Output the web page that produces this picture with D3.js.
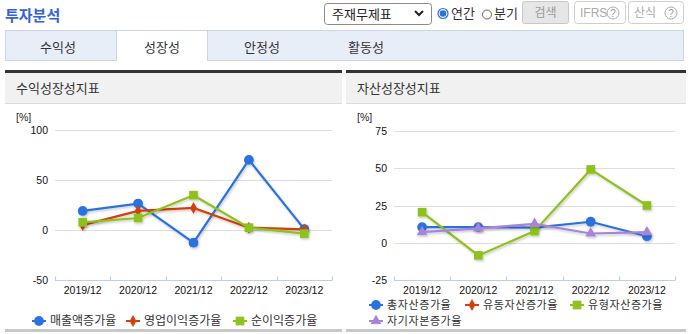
<!DOCTYPE html>
<html><head><meta charset="utf-8">
<script src="https://cdn.jsdelivr.net/npm/d3@7"></script>
<style>
html,body{margin:0;padding:0;background:#fff;}
svg{display:block;font-family:"Noto Sans CJK KR","Noto Sans",sans-serif;}
</style></head>
<body><svg id="c" width="690" height="334"></svg>
<script>
const categories = ["2019/12","2020/12","2021/12","2022/12","2023/12"];
// 수익성장성지표
const leftTicks = [-50, 0, 50, 100];
const salesGrowth = [18.8, 26.2, -13.1, 70.0, 0.6];
const opIncomeGrowth = [4.6, 18.8, 21.8, 2.0, 0.3];
const netIncomeGrowth = [7.4, 11.7, 34.6, 2.0, -4.0];
// 자산성장성지표
const rightTicks = [-25, 0, 25, 50, 75];
const totalAssetGrowth = [10.5, 10.5, 10.2, 14.1, 4.4];
const currentAssetGrowth = [null, null, null, null, null];
const tangibleAssetGrowth = [20.5, -8.5, 7.8, 49.2, 25.0];
const equityGrowth = [7.1, 9.6, 12.7, 6.2, 7.1];

const tabs = ["수익성","성장성","안정성","활동성"];

const C = {blue:"#2a72de", red:"#d2400e", green:"#8dc21f", purple:"#a884d8"};
const NUMFONT = "'Liberation Sans Narrow','Liberation Sans',sans-serif";

const svg = d3.select("#c");
const defs = svg.append("defs");
const f = defs.append("filter").attr("id","sh").attr("x","-10%").attr("y","-10%").attr("width","130%").attr("height","130%");
f.append("feDropShadow").attr("dx",1).attr("dy",1.5).attr("stdDeviation",1).attr("flood-color","#000").attr("flood-opacity",0.22);

// ---- header ----
svg.append("text").attr("x",5).attr("y",21).attr("font-size",15).attr("font-weight","bold")
  .attr("fill","#3563d6").text("투자분석");

// select
svg.append("rect").attr("x",324.5).attr("y",3.5).attr("width",107).attr("height",21).attr("rx",3)
  .attr("fill","#fff").attr("stroke","#8a8a8a");
svg.append("text").attr("x",332).attr("y",19).attr("font-size",13).attr("fill","#222").text("주재무제표");
svg.append("path").attr("d","M415,11 L419,15 L423,11").attr("fill","none").attr("stroke","#222").attr("stroke-width",2);

// radios
svg.append("circle").attr("cx",443).attr("cy",13.5).attr("r",5).attr("fill","#fff").attr("stroke","#2a72de").attr("stroke-width",1.2);
svg.append("circle").attr("cx",443).attr("cy",13.5).attr("r",3.3).attr("fill","#2a72de");
svg.append("text").attr("x",451).attr("y",18).attr("font-size",13).attr("fill","#333").text("연간");
svg.append("circle").attr("cx",487).attr("cy",14.5).attr("r",4.5).attr("fill","#fff").attr("stroke","#666");
svg.append("text").attr("x",494).attr("y",18).attr("font-size",13).attr("fill","#333").text("분기");

// buttons
svg.append("rect").attr("x",522.5).attr("y",1.5).attr("width",46).attr("height",22).attr("rx",2)
  .attr("fill","#e6e6e6").attr("stroke","#c8c8c8");
svg.append("text").attr("x",545.5).attr("y",17).attr("text-anchor","middle").attr("font-size",12).attr("fill","#999").text("검색");
function helpBtn(x, w, label){
  svg.append("rect").attr("x",x+0.5).attr("y",1.5).attr("width",w).attr("height",22).attr("rx",3)
    .attr("fill","#fff").attr("stroke","#cfcfcf");
  svg.append("text").attr("x",x+6).attr("y",17).attr("font-size",12).attr("fill","#aaa")
    .attr("font-family", label==="IFRS" ? "Liberation Sans, sans-serif" : null).text(label);
  svg.append("circle").attr("cx",x+w-12).attr("cy",13).attr("r",6).attr("fill","none").attr("stroke","#aaa");
  svg.append("text").attr("x",x+w-12).attr("y",17).attr("text-anchor","middle").attr("font-size",10)
    .attr("font-family","Liberation Sans, sans-serif").attr("fill","#999").text("?");
}
helpBtn(574, 51, "IFRS");
helpBtn(628, 55, "산식");

// tabs
svg.append("rect").attr("x",5.5).attr("y",30.5).attr("width",678).attr("height",30).attr("fill","#e8eef8").attr("stroke","#cbd5e5");
svg.append("rect").attr("x",116.5).attr("y",31).attr("width",91).attr("height",31).attr("fill","#fff");
svg.append("path").attr("d","M116.5,61 V30.5 H207.5 V61").attr("fill","none").attr("stroke","#cbd5e5");
const tabX = [58, 162, 262, 366];
svg.selectAll("text.tab").data(tabs).enter().append("text").attr("class","tab")
  .attr("x",(d,i)=>tabX[i]).attr("y",52).attr("text-anchor","middle").attr("font-size",13).attr("fill","#333").text(d=>d);

// ---- panels ----
function panel(opts){
  const g = svg.append("g");
  g.append("rect").attr("x",opts.x0).attr("y",70).attr("width",opts.x1-opts.x0).attr("height",3).attr("fill","#333");
  g.append("rect").attr("x",opts.x0).attr("y",73).attr("width",opts.x1-opts.x0).attr("height",30).attr("fill","#f1f1f1");
  g.append("rect").attr("x",opts.x0).attr("y",103).attr("width",opts.x1-opts.x0).attr("height",1).attr("fill","#dcdcdc");
  g.append("text").attr("x",opts.x0+11).attr("y",93).attr("font-size",13).attr("fill","#333").text(opts.title);
  g.append("rect").attr("x",opts.x0).attr("y",329).attr("width",opts.x1-opts.x0).attr("height",3).attr("fill","#c8c8c8");

  const x = d3.scaleBand().domain(categories).range([opts.px0, opts.px1]);
  const y = d3.scaleLinear().domain(opts.domain).range([opts.py1, opts.py0]);

  g.append("text").attr("x",opts.x0+11).attr("y",121).attr("font-size",10.5)
    .attr("font-family",NUMFONT).attr("fill","#222").text("[%]");

  // grid
  g.append("g").selectAll("line").data(opts.ticks.filter(t=>t!==opts.domain[0])).enter().append("line")
    .attr("x1",opts.px0).attr("x2",opts.px1).attr("y1",d=>Math.round(y(d))+0.5).attr("y2",d=>Math.round(y(d))+0.5)
    .attr("stroke","#dedede");
  // y labels
  g.append("g").selectAll("text").data(opts.ticks).enter().append("text")
    .attr("x",opts.px0-7).attr("y",d=>y(d)+4).attr("text-anchor","end").attr("font-size",10.5)
    .attr("font-family",NUMFONT).attr("fill","#111").text(d=>d);

  // x axis
  const ax = g.append("g").attr("transform",`translate(0,${Math.round(opts.py1)+0.5})`)
    .call(d3.axisBottom(x).tickSize(0).tickPadding(6));
  ax.select(".domain").remove();
  ax.append("line").attr("x1",opts.px0).attr("x2",opts.px1).attr("stroke","#c3cddd").attr("stroke-width",1.2);
  const bounds = [opts.px0].concat(categories.map(c=>x(c)+x.bandwidth()));
  ax.selectAll("line.tk").data(bounds).enter().append("line").attr("class","tk")
    .attr("x1",d=>Math.round(d)+0.5).attr("x2",d=>Math.round(d)+0.5).attr("y1",-4).attr("y2",0)
    .attr("stroke","#c3cddd").attr("stroke-width",1.2);
  ax.selectAll(".tick text").attr("font-size",10.5)
    .attr("font-family",NUMFONT).attr("fill","#111");

  const cx = c => x(c)+x.bandwidth()/2;
  const line = d3.line().defined(d=>d.v!==null).x(d=>cx(d.c)).y(d=>y(d.v));
  opts.series.forEach(s=>{
    const pts = categories.map((c,i)=>({c, v:s.values[i]}));
    const sg = g.append("g").attr("filter","url(#sh)");
    sg.append("path").datum(pts).attr("d",line).attr("fill","none").attr("stroke",s.color).attr("stroke-width",2.2);
    const sym = d3.symbol().type(s.shape).size(s.size);
    sg.selectAll("path.m").data(pts.filter(p=>p.v!==null)).enter().append("path").attr("class","m")
      .attr("d",sym).attr("transform",p=>`translate(${cx(p.c)},${y(p.v)})`).attr("fill",s.color);
  });

  // legend
  const lg = g.append("g");
  opts.series.forEach((s,i)=>{
    const L = opts.legend[i];
    lg.append("line").attr("x1",L[0]-7).attr("x2",L[0]+7).attr("y1",L[1]).attr("y2",L[1]).attr("stroke",s.color).attr("stroke-width",2);
    lg.append("path").attr("d",d3.symbol().type(s.shape).size(s.size)()).attr("transform",`translate(${L[0]},${L[1]})`).attr("fill",s.color);
    lg.append("text").attr("x",L[0]+11).attr("y",L[1]+4.2).attr("font-size",opts.legendFont)
      .attr("letter-spacing",opts.legendSpacing).attr("fill","#333").text(s.name);
  });
}

panel({
  x0:5, x1:342, title:"수익성장성지표",
  px0:55, px1:332, py0:130, py1:279.5, domain:[-50,100], ticks:leftTicks,
  series:[
    {name:"매출액증가율", values:salesGrowth, color:C.blue, shape:d3.symbolCircle, size:75},
    {name:"영업이익증가율", values:opIncomeGrowth, color:C.red, shape:d3.symbolDiamond, size:40},
    {name:"순이익증가율", values:netIncomeGrowth, color:C.green, shape:d3.symbolSquare, size:75}
  ],
  legend:[[39,321],[133,321],[240,321]], legendFont:12, legendSpacing:0
});

panel({
  x0:346, x1:686, title:"자산성장성지표",
  px0:394, px1:675, py0:131, py1:280, domain:[-25,75], ticks:rightTicks,
  series:[
    {name:"총자산증가율", values:totalAssetGrowth, color:C.blue, shape:d3.symbolCircle, size:75},
    {name:"유동자산증가율", values:currentAssetGrowth, color:C.red, shape:d3.symbolDiamond, size:40},
    {name:"유형자산증가율", values:tangibleAssetGrowth, color:C.green, shape:d3.symbolSquare, size:75},
    {name:"자기자본증가율", values:equityGrowth, color:C.purple, shape:d3.symbolTriangle, size:50}
  ],
  legend:[[376,305],[472,305],[577,305],[376,321]], legendFont:11, legendSpacing:0.6
});
</script></body></html>
